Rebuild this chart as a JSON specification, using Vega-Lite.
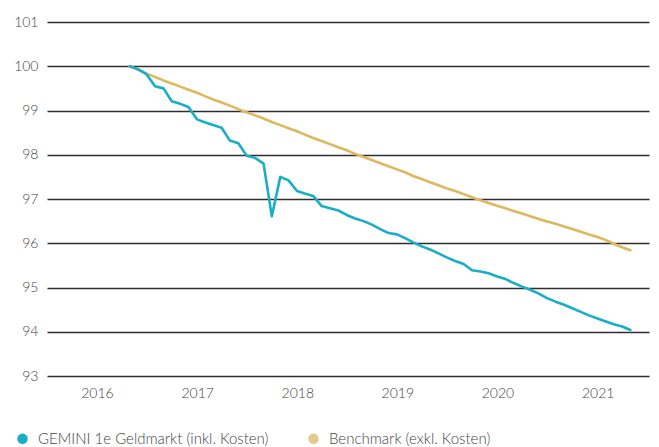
{
  "$schema": "https://vega.github.io/schema/vega-lite/v6.json",
  "autosize": "none",
  "width": 602,
  "height": 354,
  "padding": {"left": 47, "top": 22, "right": 10, "bottom": 71},
  "background": "white",
  "config": {
    "view": {"stroke": null},
    "font": "Lato",
    "axis": {"labelFont": "Lato", "labelFontSize": 14, "labelColor": "#444444", "labelFontWeight": 300},
    "legend": {"labelFont": "Lato", "labelFontSize": 15, "labelColor": "#444444", "labelFontWeight": 300}
  },
  "data": {"values": [
    {"date":"2016-04-30","series":"Benchmark (exkl. Kosten)","value":100.00},
    {"date":"2016-05-31","series":"Benchmark (exkl. Kosten)","value":99.92},
    {"date":"2016-06-30","series":"Benchmark (exkl. Kosten)","value":99.83},
    {"date":"2016-07-31","series":"Benchmark (exkl. Kosten)","value":99.76},
    {"date":"2016-08-31","series":"Benchmark (exkl. Kosten)","value":99.68},
    {"date":"2016-09-30","series":"Benchmark (exkl. Kosten)","value":99.61},
    {"date":"2016-10-31","series":"Benchmark (exkl. Kosten)","value":99.54},
    {"date":"2016-11-30","series":"Benchmark (exkl. Kosten)","value":99.47},
    {"date":"2016-12-31","series":"Benchmark (exkl. Kosten)","value":99.40},
    {"date":"2017-01-31","series":"Benchmark (exkl. Kosten)","value":99.32},
    {"date":"2017-02-28","series":"Benchmark (exkl. Kosten)","value":99.25},
    {"date":"2017-03-31","series":"Benchmark (exkl. Kosten)","value":99.18},
    {"date":"2017-04-30","series":"Benchmark (exkl. Kosten)","value":99.11},
    {"date":"2017-05-31","series":"Benchmark (exkl. Kosten)","value":99.03},
    {"date":"2017-06-30","series":"Benchmark (exkl. Kosten)","value":98.96},
    {"date":"2017-07-31","series":"Benchmark (exkl. Kosten)","value":98.89},
    {"date":"2017-08-31","series":"Benchmark (exkl. Kosten)","value":98.82},
    {"date":"2017-09-30","series":"Benchmark (exkl. Kosten)","value":98.74},
    {"date":"2017-10-31","series":"Benchmark (exkl. Kosten)","value":98.67},
    {"date":"2017-11-30","series":"Benchmark (exkl. Kosten)","value":98.60},
    {"date":"2017-12-31","series":"Benchmark (exkl. Kosten)","value":98.53},
    {"date":"2018-01-31","series":"Benchmark (exkl. Kosten)","value":98.45},
    {"date":"2018-02-28","series":"Benchmark (exkl. Kosten)","value":98.38},
    {"date":"2018-03-31","series":"Benchmark (exkl. Kosten)","value":98.31},
    {"date":"2018-04-30","series":"Benchmark (exkl. Kosten)","value":98.24},
    {"date":"2018-05-31","series":"Benchmark (exkl. Kosten)","value":98.17},
    {"date":"2018-06-30","series":"Benchmark (exkl. Kosten)","value":98.10},
    {"date":"2018-07-31","series":"Benchmark (exkl. Kosten)","value":98.02},
    {"date":"2018-08-31","series":"Benchmark (exkl. Kosten)","value":97.95},
    {"date":"2018-09-30","series":"Benchmark (exkl. Kosten)","value":97.88},
    {"date":"2018-10-31","series":"Benchmark (exkl. Kosten)","value":97.81},
    {"date":"2018-11-30","series":"Benchmark (exkl. Kosten)","value":97.74},
    {"date":"2018-12-31","series":"Benchmark (exkl. Kosten)","value":97.67},
    {"date":"2019-01-31","series":"Benchmark (exkl. Kosten)","value":97.60},
    {"date":"2019-02-28","series":"Benchmark (exkl. Kosten)","value":97.52},
    {"date":"2019-03-31","series":"Benchmark (exkl. Kosten)","value":97.45},
    {"date":"2019-04-30","series":"Benchmark (exkl. Kosten)","value":97.38},
    {"date":"2019-05-31","series":"Benchmark (exkl. Kosten)","value":97.31},
    {"date":"2019-06-30","series":"Benchmark (exkl. Kosten)","value":97.24},
    {"date":"2019-07-31","series":"Benchmark (exkl. Kosten)","value":97.18},
    {"date":"2019-08-31","series":"Benchmark (exkl. Kosten)","value":97.11},
    {"date":"2019-09-30","series":"Benchmark (exkl. Kosten)","value":97.04},
    {"date":"2019-10-31","series":"Benchmark (exkl. Kosten)","value":96.97},
    {"date":"2019-11-30","series":"Benchmark (exkl. Kosten)","value":96.91},
    {"date":"2019-12-31","series":"Benchmark (exkl. Kosten)","value":96.85},
    {"date":"2020-01-31","series":"Benchmark (exkl. Kosten)","value":96.79},
    {"date":"2020-02-29","series":"Benchmark (exkl. Kosten)","value":96.73},
    {"date":"2020-03-31","series":"Benchmark (exkl. Kosten)","value":96.67},
    {"date":"2020-04-30","series":"Benchmark (exkl. Kosten)","value":96.61},
    {"date":"2020-05-31","series":"Benchmark (exkl. Kosten)","value":96.55},
    {"date":"2020-06-30","series":"Benchmark (exkl. Kosten)","value":96.49},
    {"date":"2020-07-31","series":"Benchmark (exkl. Kosten)","value":96.44},
    {"date":"2020-08-31","series":"Benchmark (exkl. Kosten)","value":96.38},
    {"date":"2020-09-30","series":"Benchmark (exkl. Kosten)","value":96.32},
    {"date":"2020-10-31","series":"Benchmark (exkl. Kosten)","value":96.26},
    {"date":"2020-11-30","series":"Benchmark (exkl. Kosten)","value":96.20},
    {"date":"2020-12-31","series":"Benchmark (exkl. Kosten)","value":96.14},
    {"date":"2021-01-31","series":"Benchmark (exkl. Kosten)","value":96.07},
    {"date":"2021-02-28","series":"Benchmark (exkl. Kosten)","value":95.99},
    {"date":"2021-03-31","series":"Benchmark (exkl. Kosten)","value":95.91},
    {"date":"2021-04-30","series":"Benchmark (exkl. Kosten)","value":95.84},
    {"date":"2016-04-30","series":"GEMINI 1e Geldmarkt (inkl. Kosten)","value":100.00},
    {"date":"2016-05-31","series":"GEMINI 1e Geldmarkt (inkl. Kosten)","value":99.93},
    {"date":"2016-06-30","series":"GEMINI 1e Geldmarkt (inkl. Kosten)","value":99.82},
    {"date":"2016-07-31","series":"GEMINI 1e Geldmarkt (inkl. Kosten)","value":99.55},
    {"date":"2016-08-31","series":"GEMINI 1e Geldmarkt (inkl. Kosten)","value":99.50},
    {"date":"2016-09-30","series":"GEMINI 1e Geldmarkt (inkl. Kosten)","value":99.21},
    {"date":"2016-10-31","series":"GEMINI 1e Geldmarkt (inkl. Kosten)","value":99.15},
    {"date":"2016-11-30","series":"GEMINI 1e Geldmarkt (inkl. Kosten)","value":99.08},
    {"date":"2016-12-31","series":"GEMINI 1e Geldmarkt (inkl. Kosten)","value":98.80},
    {"date":"2017-01-31","series":"GEMINI 1e Geldmarkt (inkl. Kosten)","value":98.73},
    {"date":"2017-02-28","series":"GEMINI 1e Geldmarkt (inkl. Kosten)","value":98.67},
    {"date":"2017-03-31","series":"GEMINI 1e Geldmarkt (inkl. Kosten)","value":98.61},
    {"date":"2017-04-30","series":"GEMINI 1e Geldmarkt (inkl. Kosten)","value":98.32},
    {"date":"2017-05-31","series":"GEMINI 1e Geldmarkt (inkl. Kosten)","value":98.26},
    {"date":"2017-06-30","series":"GEMINI 1e Geldmarkt (inkl. Kosten)","value":97.98},
    {"date":"2017-07-31","series":"GEMINI 1e Geldmarkt (inkl. Kosten)","value":97.93},
    {"date":"2017-08-31","series":"GEMINI 1e Geldmarkt (inkl. Kosten)","value":97.80},
    {"date":"2017-09-30","series":"GEMINI 1e Geldmarkt (inkl. Kosten)","value":96.61},
    {"date":"2017-10-31","series":"GEMINI 1e Geldmarkt (inkl. Kosten)","value":97.50},
    {"date":"2017-11-30","series":"GEMINI 1e Geldmarkt (inkl. Kosten)","value":97.42},
    {"date":"2017-12-31","series":"GEMINI 1e Geldmarkt (inkl. Kosten)","value":97.18},
    {"date":"2018-01-31","series":"GEMINI 1e Geldmarkt (inkl. Kosten)","value":97.12},
    {"date":"2018-02-28","series":"GEMINI 1e Geldmarkt (inkl. Kosten)","value":97.07},
    {"date":"2018-03-31","series":"GEMINI 1e Geldmarkt (inkl. Kosten)","value":96.84},
    {"date":"2018-04-30","series":"GEMINI 1e Geldmarkt (inkl. Kosten)","value":96.79},
    {"date":"2018-05-31","series":"GEMINI 1e Geldmarkt (inkl. Kosten)","value":96.74},
    {"date":"2018-06-30","series":"GEMINI 1e Geldmarkt (inkl. Kosten)","value":96.64},
    {"date":"2018-07-31","series":"GEMINI 1e Geldmarkt (inkl. Kosten)","value":96.56},
    {"date":"2018-08-31","series":"GEMINI 1e Geldmarkt (inkl. Kosten)","value":96.50},
    {"date":"2018-09-30","series":"GEMINI 1e Geldmarkt (inkl. Kosten)","value":96.42},
    {"date":"2018-10-31","series":"GEMINI 1e Geldmarkt (inkl. Kosten)","value":96.32},
    {"date":"2018-11-30","series":"GEMINI 1e Geldmarkt (inkl. Kosten)","value":96.23},
    {"date":"2018-12-31","series":"GEMINI 1e Geldmarkt (inkl. Kosten)","value":96.20},
    {"date":"2019-01-31","series":"GEMINI 1e Geldmarkt (inkl. Kosten)","value":96.11},
    {"date":"2019-02-28","series":"GEMINI 1e Geldmarkt (inkl. Kosten)","value":96.02},
    {"date":"2019-03-31","series":"GEMINI 1e Geldmarkt (inkl. Kosten)","value":95.93},
    {"date":"2019-04-30","series":"GEMINI 1e Geldmarkt (inkl. Kosten)","value":95.86},
    {"date":"2019-05-31","series":"GEMINI 1e Geldmarkt (inkl. Kosten)","value":95.77},
    {"date":"2019-06-30","series":"GEMINI 1e Geldmarkt (inkl. Kosten)","value":95.68},
    {"date":"2019-07-31","series":"GEMINI 1e Geldmarkt (inkl. Kosten)","value":95.60},
    {"date":"2019-08-31","series":"GEMINI 1e Geldmarkt (inkl. Kosten)","value":95.53},
    {"date":"2019-09-30","series":"GEMINI 1e Geldmarkt (inkl. Kosten)","value":95.39},
    {"date":"2019-10-31","series":"GEMINI 1e Geldmarkt (inkl. Kosten)","value":95.36},
    {"date":"2019-11-30","series":"GEMINI 1e Geldmarkt (inkl. Kosten)","value":95.32},
    {"date":"2019-12-31","series":"GEMINI 1e Geldmarkt (inkl. Kosten)","value":95.25},
    {"date":"2020-01-31","series":"GEMINI 1e Geldmarkt (inkl. Kosten)","value":95.19},
    {"date":"2020-02-29","series":"GEMINI 1e Geldmarkt (inkl. Kosten)","value":95.10},
    {"date":"2020-03-31","series":"GEMINI 1e Geldmarkt (inkl. Kosten)","value":95.02},
    {"date":"2020-04-30","series":"GEMINI 1e Geldmarkt (inkl. Kosten)","value":94.95},
    {"date":"2020-05-31","series":"GEMINI 1e Geldmarkt (inkl. Kosten)","value":94.86},
    {"date":"2020-06-30","series":"GEMINI 1e Geldmarkt (inkl. Kosten)","value":94.76},
    {"date":"2020-07-31","series":"GEMINI 1e Geldmarkt (inkl. Kosten)","value":94.68},
    {"date":"2020-08-31","series":"GEMINI 1e Geldmarkt (inkl. Kosten)","value":94.61},
    {"date":"2020-09-30","series":"GEMINI 1e Geldmarkt (inkl. Kosten)","value":94.53},
    {"date":"2020-10-31","series":"GEMINI 1e Geldmarkt (inkl. Kosten)","value":94.45},
    {"date":"2020-11-30","series":"GEMINI 1e Geldmarkt (inkl. Kosten)","value":94.37},
    {"date":"2020-12-31","series":"GEMINI 1e Geldmarkt (inkl. Kosten)","value":94.30},
    {"date":"2021-01-31","series":"GEMINI 1e Geldmarkt (inkl. Kosten)","value":94.23},
    {"date":"2021-02-28","series":"GEMINI 1e Geldmarkt (inkl. Kosten)","value":94.17},
    {"date":"2021-03-31","series":"GEMINI 1e Geldmarkt (inkl. Kosten)","value":94.12},
    {"date":"2021-04-30","series":"GEMINI 1e Geldmarkt (inkl. Kosten)","value":94.04}
  ]},
  "mark": {"type": "line", "strokeWidth": 2.6, "strokeJoin": "round", "strokeCap": "round"},
  "encoding": {
    "x": {
      "field": "date", "type": "temporal",
      "scale": {"type": "utc", "domain": [{"year": 2015, "month": 7, "date": 3, "utc": true}, {"year": 2021, "month": 7, "date": 7, "utc": true}]},
      "axis": {
        "title": null, "grid": false, "domain": false, "ticks": false, "tickSize": 0, "labelPadding": 10, "format": "%Y", "formatType": "utc",
        "values": [
          {"year": 2016, "month": 1, "date": 1, "utc": true},
          {"year": 2017, "month": 1, "date": 1, "utc": true},
          {"year": 2018, "month": 1, "date": 1, "utc": true},
          {"year": 2019, "month": 1, "date": 1, "utc": true},
          {"year": 2020, "month": 1, "date": 1, "utc": true},
          {"year": 2021, "month": 1, "date": 1, "utc": true}
        ]
      }
    },
    "y": {
      "field": "value", "type": "quantitative",
      "scale": {"domain": [93, 101], "nice": false, "zero": false},
      "axis": {
        "title": null, "domain": false, "ticks": false, "tickSize": 0, "labelPadding": 9,
        "values": [93, 94, 95, 96, 97, 98, 99, 100, 101],
        "grid": true, "gridColor": "#2e2e2e", "gridWidth": 1.3
      }
    },
    "color": {
      "field": "series", "type": "nominal",
      "scale": {"domain": ["GEMINI 1e Geldmarkt (inkl. Kosten)", "Benchmark (exkl. Kosten)"], "range": ["#19AEC8", "#DDB85E"]},
      "legend": {
        "title": null, "orient": "none", "direction": "horizontal", "columns": 2,
        "legendX": -32, "legendY": 409, "padding": 0,
        "symbolType": "circle", "symbolSize": 110,
        "labelOffset": 8, "columnPadding": 37, "labelLimit": 400,
        "encode": {
          "symbols": {
            "update": {
              "fill": [
                {"test": "datum.value === 'Benchmark (exkl. Kosten)'", "value": "#E4C98C"},
                {"value": "#19AEC8"}
              ],
              "size": {"value": 110},
              "stroke": {"value": "transparent"},
              "strokeWidth": {"value": 0},
              "opacity": {"value": 1},
              "fillOpacity": {"value": 1}
            }
          }
        }
      }
    }
  }
}
